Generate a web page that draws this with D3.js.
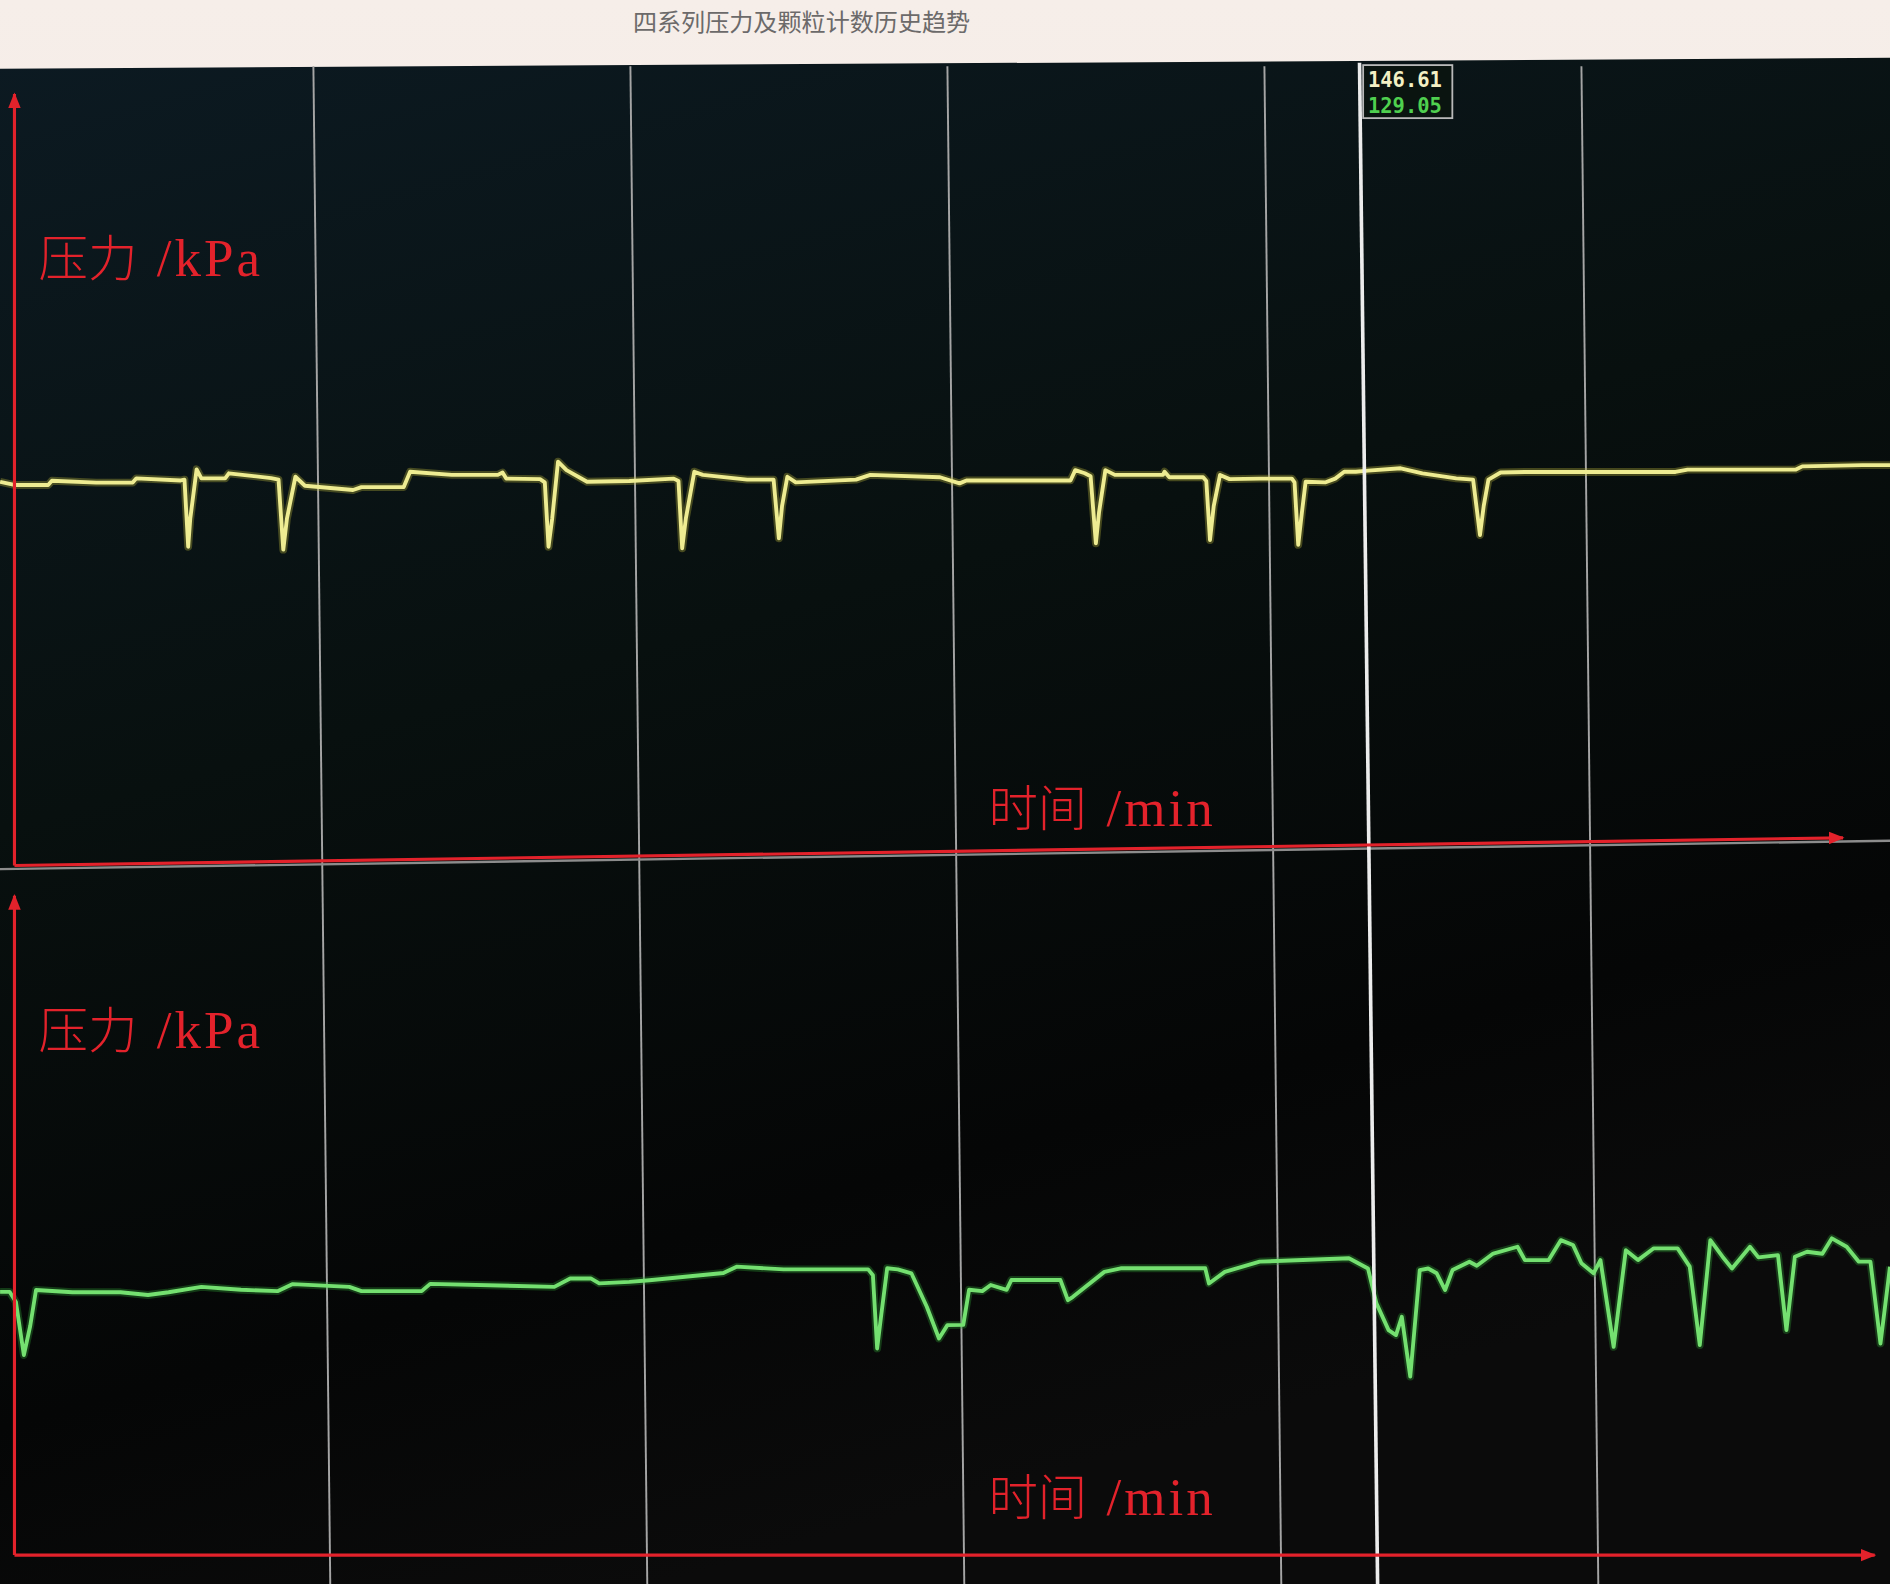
<!DOCTYPE html>
<html lang="zh">
<head>
<meta charset="UTF-8">
<title>四系列压力及颗粒计数历史趋势</title>
<script src="https://d3js.org/d3.v7.min.js"></script>
<style>
  html, body { margin: 0; padding: 0; background: #000; overflow: hidden; }
  svg { display: block; }
</style>
</head>
<body>
<div id="chart"></div>
<script>
// ---- data (time in min, pressure in kPa) ----
const titleText = '四系列压力及颗粒计数历史趋势';
const yLabel = '压力 /kPa';
const xLabel = '时间 /min';

const gridTimes = [60, 120, 180, 240, 300];
const cursorTime = 258;
const readouts = ['146.61', '129.05'];

const upperTime = [0.7, 3.4, 9.8, 10.5, 18.9, 25.8, 26.5, 34.9, 35.6, 36.3, 36.7, 37.9, 38.8, 43.3, 44.0, 52.0, 53.4, 54.3, 55.0, 56.6,
  58.4, 67.5, 69.1, 77.1, 78.3, 86.2, 94.9, 95.8, 96.5, 102.9, 103.8, 104.5, 105.2, 106.3, 107.9, 111.8, 119.8, 128.2, 129.1, 129.8,
  130.5, 132.1, 133.7, 142.1, 147.1, 148.1, 148.7, 149.7, 151.3, 162.7, 165.4, 178.6, 182.3, 183.6, 203.3, 204.2, 206.0, 207.1, 208.1, 208.7,
  209.9, 211.7, 220.8, 221.1, 222.0, 228.4, 229.0, 229.7, 230.4, 231.6, 233.4, 239.1, 245.2, 245.7, 246.4, 247.1, 247.8, 251.6, 253.4, 255.1,
  257.3, 259.6, 265.8, 269.9, 276.3, 279.5, 280.8, 281.5, 282.4, 284.7, 289.3, 317.8, 320.1, 340.6, 341.8, 353.2, 358.4];
const upperKpa = [144.7, 143.5, 143.5, 145.1, 144.4, 144.4, 146.0, 145.2, 145.5, 120.2, 130.9, 149.4, 146.0, 146.0, 147.9, 146.1, 145.5, 119.1, 130.9, 146.6,
  143.2, 141.6, 142.7, 142.7, 148.5, 147.3, 147.3, 148.2, 145.9, 145.7, 144.5, 120.2, 130.9, 152.3, 149.1, 144.7, 145.0, 145.9, 145.0, 119.6,
  130.9, 148.5, 147.3, 145.5, 145.5, 123.4, 135.5, 146.6, 144.5, 145.5, 147.3, 146.4, 144.1, 145.2, 145.2, 149.1, 147.9, 146.8, 121.5, 133.2,
  149.1, 147.3, 147.3, 148.5, 146.4, 146.4, 145.0, 122.7, 135.5, 147.3, 145.7, 145.9, 145.9, 144.5, 120.9, 133.2, 144.7, 144.5, 145.9, 148.5,
  148.5, 148.9, 149.8, 147.9, 146.0, 145.5, 124.6, 135.5, 145.5, 148.2, 148.4, 148.4, 149.3, 149.3, 150.5, 151.0, 151.0];

const lowerTime = [0.7, 2.5, 3.7, 5.2, 6.4, 7.5, 14.4, 23.5, 28.7, 32.6, 38.8, 46.3, 53.2, 56.1, 66.8, 69.1, 80.5, 82.1, 105.6, 108.6,
  112.5, 114.1, 119.8, 123.6, 137.6, 140.1, 149.0, 165.0, 165.9, 166.7, 167.5, 168.6, 170.6, 173.2, 176.1, 178.4, 180.0, 183.0, 184.1, 186.6,
  188.2, 191.2, 192.1, 201.4, 202.8, 203.7, 209.7, 212.8, 228.8, 229.5, 232.5, 239.1, 256.0, 259.6, 261.2, 263.5, 264.9, 266.0, 267.6, 269.4,
  271.0, 272.6, 274.2, 275.6, 278.8, 280.2, 283.3, 287.9, 289.3, 293.8, 296.1, 298.4, 300.0, 302.3, 303.6, 306.1, 308.4, 310.7, 313.7, 318.2,
  320.5, 322.4, 324.4, 326.7, 328.5, 331.9, 333.5, 337.2, 338.8, 340.4, 342.7, 345.6, 347.4, 350.2, 352.5, 354.7, 356.6, 358.4];
const lowerKpa = [116.2, 116.2, 111.7, 88.3, 101.1, 117.0, 116.0, 116.0, 114.8, 116.0, 118.4, 117.1, 116.5, 119.6, 118.4, 116.5, 116.5, 119.7, 118.4, 122.1,
  122.1, 119.9, 120.6, 121.3, 124.5, 127.3, 126.1, 126.1, 123.5, 91.2, 106.4, 126.6, 126.1, 124.3, 109.6, 95.6, 101.5, 101.6, 117.1, 116.5,
  119.2, 117.1, 121.4, 121.4, 112.5, 113.9, 125.0, 126.6, 126.6, 119.9, 125.0, 129.5, 131.0, 126.5, 111.1, 99.3, 97.1, 105.2, 78.8, 125.8,
  126.5, 124.4, 117.0, 125.8, 129.5, 127.7, 133.1, 136.1, 130.2, 130.2, 139.0, 136.9, 128.8, 124.4, 130.2, 91.9, 134.6, 130.2, 135.4, 135.4,
  127.3, 92.7, 139.0, 131.7, 126.5, 136.1, 131.4, 132.4, 99.3, 131.7, 133.9, 133.0, 139.8, 136.1, 129.5, 129.5, 93.4, 127.3];

// ---- layout (drawn in a 1568x1314 frame, scaled to the window) ----
const W = 1568, H = 1314;
const gridSkew = 14;      // photo perspective: grid lines lean right toward the bottom
const upperAxisTilt = -23;

const xScale = d3.scaleLinear().domain([0, 360]).range([-3, 1575]);
const yUpper = d3.scaleLinear().domain([0, 290]).range([718, 80]);
const yLower = d3.scaleLinear().domain([0, 290]).range([1290, 745]);

const svg = d3.select('#chart').append('svg')
  .attr('width', 1890)
  .attr('height', 1584)
  .attr('viewBox', `0 0 ${W} ${H}`)
  .attr('preserveAspectRatio', 'none');

const defs = svg.append('defs');

const bg = defs.append('linearGradient').attr('id', 'bg')
  .attr('x1', 0).attr('y1', 0).attr('x2', 0.35).attr('y2', 1);
bg.append('stop').attr('offset', '0%').attr('stop-color', '#0c1a22');
bg.append('stop').attr('offset', '45%').attr('stop-color', '#08100f');
bg.append('stop').attr('offset', '80%').attr('stop-color', '#050606');
bg.append('stop').attr('offset', '100%').attr('stop-color', '#0b0b0b');

const barGrad = defs.append('linearGradient').attr('id', 'bar')
  .attr('x1', 0).attr('y1', 0).attr('x2', 0).attr('y2', 1);
barGrad.append('stop').attr('offset', '0%').attr('stop-color', '#f6eee9');
barGrad.append('stop').attr('offset', '100%').attr('stop-color', '#eee2da');

defs.append('marker')
  .attr('id', 'arrow')
  .attr('viewBox', '0 0 10 10')
  .attr('refX', 9).attr('refY', 5)
  .attr('markerWidth', 5).attr('markerHeight', 5)
  .attr('orient', 'auto')
  .append('path')
  .attr('d', 'M0,1 L10,5 L0,9 Z')
  .attr('fill', '#e3222b');

// title bar + screen
svg.append('rect').attr('width', W).attr('height', H).attr('fill', 'url(#bar)');
svg.append('path')
  .attr('d', `M0,57 L${W},48 L${W},${H} L0,${H} Z`)
  .attr('fill', 'url(#bg)');

svg.append('text')
  .attr('x', 665).attr('y', 26)
  .attr('text-anchor', 'middle')
  .attr('font-family', '"Noto Sans CJK SC", sans-serif')
  .attr('font-size', 20)
  .attr('fill', '#6c6a6a')
  .text(titleText);

// gray grid lines
svg.append('g').selectAll('line')
  .data(gridTimes)
  .join('line')
  .attr('x1', d => xScale(d)).attr('y1', 55)
  .attr('x2', d => xScale(d) + gridSkew).attr('y2', H)
  .attr('stroke', '#a5a5a5')
  .attr('stroke-width', 1.6);

// panel divider
svg.append('line')
  .attr('x1', 0).attr('y1', yUpper(0) + 3)
  .attr('x2', W).attr('y2', yUpper(0) + 3 + upperAxisTilt * W / 1530)
  .attr('stroke', '#8c8c8c')
  .attr('stroke-width', 2);

// traces
const lineUpper = d3.line().x((d, i) => xScale(upperTime[i])).y(d => yUpper(d));
const lineLower = d3.line().x((d, i) => xScale(lowerTime[i])).y(d => yLower(d));

function drawTrace(values, gen, glow, core) {
  svg.append('path').datum(values)
    .attr('d', gen).attr('fill', 'none')
    .attr('stroke', glow).attr('stroke-opacity', 0.35)
    .attr('stroke-width', 6.5).attr('stroke-linejoin', 'round');
  svg.append('path').datum(values)
    .attr('d', gen).attr('fill', 'none')
    .attr('stroke', core)
    .attr('stroke-width', 3.2).attr('stroke-linejoin', 'round');
}
drawTrace(upperKpa, lineUpper, '#b8b33a', '#eeec92');
drawTrace(lowerKpa, lineLower, '#2f9a33', '#74e070');

// cursor
const cx = xScale(cursorTime);
svg.append('line')
  .attr('x1', cx).attr('y1', 52)
  .attr('x2', cx + gridSkew + 1).attr('y2', H)
  .attr('stroke', '#ececec')
  .attr('stroke-width', 3);

const box = svg.append('g').attr('transform', `translate(${cx + 3}, 54)`);
box.append('rect')
  .attr('width', 74).attr('height', 44)
  .attr('fill', '#0a1410')
  .attr('stroke', '#b9b9b9').attr('stroke-width', 1.5);
box.selectAll('text')
  .data(readouts)
  .join('text')
  .attr('x', 4)
  .attr('y', (d, i) => 18 + i * 22)
  .attr('font-family', '"DejaVu Sans Mono", monospace')
  .attr('font-weight', 'bold')
  .attr('font-size', 17)
  .attr('fill', (d, i) => i === 0 ? '#f3f0c4' : '#4fd04f')
  .text(d => d);

// red axes
const red = '#e3222b';
const axes = svg.append('g').attr('stroke', red).attr('stroke-width', 2.6).attr('fill', 'none');
axes.append('line')
  .attr('x1', 12).attr('y1', yUpper(0))
  .attr('x2', 12).attr('y2', yUpper(290) - 2)
  .attr('marker-end', 'url(#arrow)');
axes.append('line')
  .attr('x1', 12).attr('y1', yUpper(0))
  .attr('x2', xScale(349.5)).attr('y2', yUpper(0) + upperAxisTilt)
  .attr('marker-end', 'url(#arrow)');
axes.append('line')
  .attr('x1', 12).attr('y1', yLower(0))
  .attr('x2', 12).attr('y2', yLower(290) - 2)
  .attr('marker-end', 'url(#arrow)');
axes.append('line')
  .attr('x1', 12).attr('y1', yLower(0))
  .attr('x2', xScale(355.5)).attr('y2', yLower(0))
  .attr('marker-end', 'url(#arrow)');

// axis labels
function label(x, y, txt) {
  const [cn, unit] = txt.split(' ');
  const t = svg.append('text')
    .attr('x', x).attr('y', y)
    .attr('fill', red)
    .attr('font-size', 41);
  t.append('tspan')
    .attr('font-family', '"Noto Sans CJK SC", sans-serif')
    .attr('font-weight', 300)
    .text(cn);
  t.append('tspan')
    .attr('dx', 16)
    .attr('font-family', '"Liberation Serif", serif')
    .attr('font-size', 44)
    .attr('letter-spacing', 2.5)
    .text(unit);
}
label(32, 229, yLabel);
label(32, 869, yLabel);
label(820, 685, xLabel);
label(820, 1257, xLabel);
</script>
</body>
</html>
